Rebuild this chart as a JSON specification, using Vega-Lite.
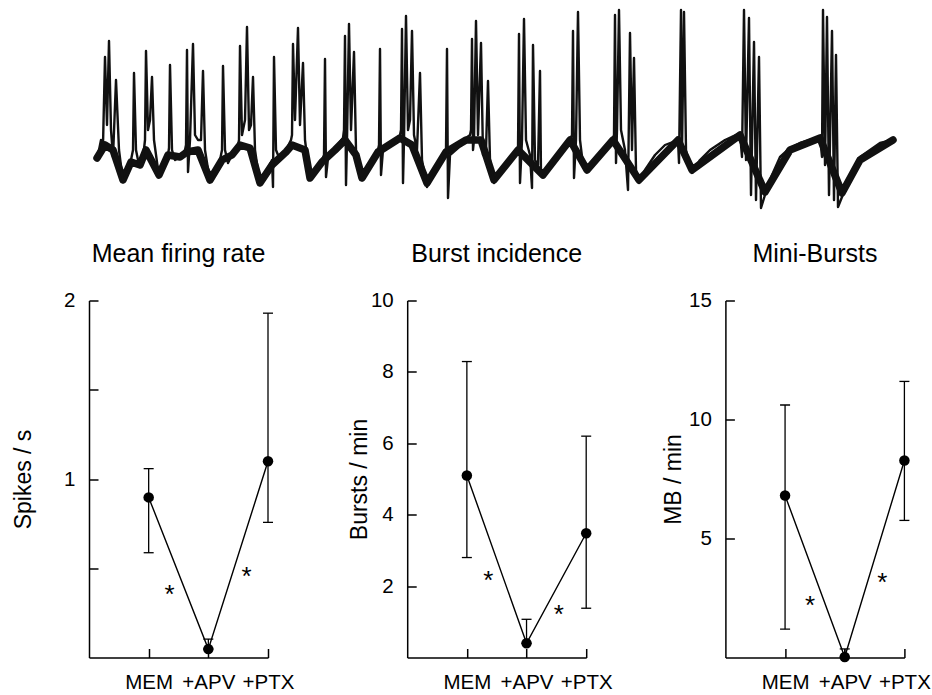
{
  "$schema": "https://vega.github.io/schema/vega-lite/v6.json",
  "autosize": "none",
  "padding": {"left": 89, "top": 10, "right": 843, "bottom": 685},
  "background": "white",
  "bounds": "flush",
  "spacing": 90.5,
  "config": {
    "view": {"stroke": null},
    "font": "Liberation Sans",
    "axis": {
      "grid": false,
      "domainColor": "#000",
      "domainWidth": 1.5,
      "tickColor": "#000",
      "tickWidth": 1.5,
      "tickSize": -9,
      "labelFont": "Liberation Sans",
      "labelFontSize": 20.5,
      "labelColor": "#000",
      "titleFont": "Liberation Sans",
      "titleFontSize": 23,
      "titleFontWeight": "normal",
      "titleColor": "#000"
    },
    "axisX": {"labelPadding": 24, "labelFlush": false, "labelOverlap": false, "labelBound": false},
    "axisY": {"labelPadding": 23, "labelOverlap": false, "titleBaseline": "alphabetic", "titleAngle": -90, "titleY": 178.5, "titleAlign": "center"},
    "title": {"font": "Liberation Sans", "fontSize": 25, "fontWeight": "normal", "color": "#000", "anchor": "middle", "frame": "group", "baseline": "alphabetic", "offset": 24}
  },
  "datasets": {
    "trace": [
      {"t":0,"v":50},{"t":2,"v":60},{"t":4,"v":70},{"t":6,"v":65},{"t":8,"v":153},{"t":10,"v":85},{"t":12,"v":169},{"t":14,"v":80},{"t":16,"v":53},{"t":19,"v":130},{"t":22,"v":60},{"t":26,"v":28},{"t":30,"v":35},{"t":34,"v":50},
      {"t":36,"v":60},{"t":37,"v":137},{"t":39,"v":60},{"t":41,"v":50},{"t":43,"v":43},{"t":46,"v":52},
      {"t":48,"v":70},{"t":49,"v":159},{"t":51,"v":80},{"t":53,"v":90},{"t":55,"v":133},{"t":57,"v":70},{"t":62,"v":33},{"t":66,"v":45},{"t":71,"v":55},
      {"t":72,"v":62},{"t":73,"v":145},{"t":75,"v":60},{"t":78,"v":50},{"t":83,"v":53},{"t":88,"v":60},
      {"t":89,"v":65},{"t":90,"v":160},{"t":91,"v":38},{"t":93,"v":70},{"t":96,"v":166},{"t":98,"v":75},{"t":101,"v":70},{"t":104,"v":70},{"t":106,"v":139},{"t":108,"v":60},{"t":113,"v":28},{"t":118,"v":40},{"t":123,"v":50},
      {"t":125,"v":60},{"t":126,"v":144},{"t":128,"v":60},{"t":131,"v":47},{"t":135,"v":55},{"t":141,"v":65},
      {"t":142,"v":70},{"t":143,"v":164},{"t":145,"v":75},{"t":148,"v":90},{"t":150,"v":183},{"t":152,"v":80},{"t":154,"v":85},{"t":156,"v":133},{"t":158,"v":60},{"t":163,"v":25},{"t":169,"v":38},{"t":175,"v":50},
      {"t":176,"v":23},{"t":177,"v":153},{"t":179,"v":60},{"t":183,"v":50},{"t":189,"v":60},{"t":194,"v":70},
      {"t":195,"v":75},{"t":196,"v":166},{"t":198,"v":90},{"t":201,"v":182},{"t":203,"v":85},{"t":206,"v":147},{"t":208,"v":70},{"t":213,"v":30},{"t":219,"v":38},{"t":225,"v":50},
      {"t":227,"v":55},{"t":228,"v":151},{"t":229,"v":33},{"t":231,"v":52},{"t":238,"v":62},{"t":246,"v":72},
      {"t":247,"v":80},{"t":248,"v":174},{"t":249,"v":25},{"t":250,"v":70},{"t":252,"v":186},{"t":254,"v":80},{"t":257,"v":158},{"t":259,"v":60},{"t":265,"v":30},{"t":273,"v":45},{"t":281,"v":60},
      {"t":282,"v":65},{"t":283,"v":161},{"t":284,"v":35},{"t":286,"v":60},{"t":293,"v":65},{"t":303,"v":75},
      {"t":304,"v":80},{"t":305,"v":181},{"t":306,"v":27},{"t":307,"v":70},{"t":309,"v":194},{"t":311,"v":80},{"t":313,"v":90},{"t":315,"v":179},{"t":317,"v":75},{"t":320,"v":60},{"t":323,"v":137},{"t":325,"v":50},{"t":330,"v":23},{"t":336,"v":35},{"t":343,"v":50},{"t":349,"v":60},
      {"t":350,"v":161},{"t":351,"v":12},{"t":353,"v":55},{"t":361,"v":62},{"t":369,"v":72},{"t":373,"v":75},
      {"t":374,"v":80},{"t":375,"v":171},{"t":376,"v":60},{"t":377,"v":70},{"t":379,"v":189},{"t":381,"v":75},{"t":384,"v":167},{"t":386,"v":55},{"t":389,"v":60},{"t":391,"v":129},{"t":393,"v":50},{"t":397,"v":27},{"t":403,"v":40},{"t":413,"v":50},
      {"t":421,"v":60},{"t":422,"v":176},{"t":423,"v":27},{"t":425,"v":70},{"t":427,"v":191},{"t":429,"v":70},{"t":433,"v":55},{"t":435,"v":22},{"t":436,"v":165},{"t":438,"v":50},{"t":441,"v":45},{"t":443,"v":139},{"t":444,"v":35},{"t":446,"v":33},{"t":453,"v":45},{"t":463,"v":60},{"t":473,"v":70},
      {"t":475,"v":75},{"t":476,"v":179},{"t":477,"v":32},{"t":479,"v":70},{"t":481,"v":198},{"t":483,"v":70},{"t":486,"v":45},{"t":490,"v":38},{"t":498,"v":50},{"t":508,"v":62},{"t":516,"v":72},
      {"t":517,"v":75},{"t":518,"v":195},{"t":519,"v":47},{"t":520,"v":80},{"t":522,"v":200},{"t":524,"v":80},{"t":528,"v":60},{"t":531,"v":20},{"t":533,"v":177},{"t":535,"v":60},{"t":537,"v":152},{"t":539,"v":40},{"t":542,"v":27},{"t":548,"v":40},{"t":558,"v":55},{"t":568,"v":65},{"t":581,"v":70},
      {"t":582,"v":47},{"t":584,"v":200},{"t":585,"v":60},{"t":587,"v":198},{"t":589,"v":60},{"t":592,"v":45},{"t":595,"v":37},{"t":603,"v":50},{"t":613,"v":60},{"t":628,"v":70},{"t":643,"v":77},
      {"t":645,"v":53},{"t":647,"v":200},{"t":649,"v":50},{"t":652,"v":192},{"t":654,"v":15},{"t":657,"v":168},{"t":659,"v":10},{"t":662,"v":153},{"t":664,"v":2},{"t":668,"v":15},{"t":675,"v":35},{"t":683,"v":53},{"t":693,"v":62},{"t":703,"v":67},{"t":713,"v":70},{"t":723,"v":73},
      {"t":725,"v":53},{"t":726,"v":200},{"t":728,"v":45},{"t":730,"v":193},{"t":732,"v":15},{"t":735,"v":179},{"t":737,"v":10},{"t":739,"v":155},{"t":741,"v":3},{"t":745,"v":13},{"t":753,"v":35},{"t":763,"v":53},{"t":773,"v":60},{"t":783,"v":67},{"t":796,"v":70}
    ],
    "band": [
      {"t":0,"v":52},{"t":8,"v":65},{"t":16,"v":60},{"t":26,"v":30},{"t":34,"v":48},{"t":43,"v":45},{"t":49,"v":60},{"t":62,"v":35},{"t":71,"v":55},{"t":83,"v":53},{"t":90,"v":58},{"t":101,"v":60},{"t":113,"v":30},{"t":125,"v":50},{"t":135,"v":55},{"t":143,"v":65},{"t":153,"v":62},{"t":163,"v":27},{"t":175,"v":45},{"t":189,"v":58},{"t":195,"v":65},{"t":208,"v":60},{"t":213,"v":32},{"t":225,"v":48},{"t":238,"v":60},{"t":248,"v":70},{"t":259,"v":55},{"t":265,"v":32},{"t":281,"v":58},{"t":303,"v":72},{"t":315,"v":65},{"t":330,"v":27},{"t":349,"v":58},{"t":369,"v":70},{"t":384,"v":70},{"t":397,"v":30},{"t":421,"v":60},{"t":446,"v":35},{"t":473,"v":70},{"t":490,"v":40},{"t":516,"v":70},{"t":542,"v":30},{"t":581,"v":70},{"t":595,"v":40},{"t":643,"v":75},{"t":668,"v":18},{"t":693,"v":60},{"t":723,"v":72},{"t":745,"v":17},{"t":763,"v":50},{"t":796,"v":70}
    ],
    "p1": [
      {"pos":1,"cond":"MEM","mean":0.897,"lo":0.587,"hi":1.058},
      {"pos":2,"cond":"+APV","mean":0.047,"lo":0.047,"hi":0.103},
      {"pos":3,"cond":"+PTX","mean":1.099,"lo":0.757,"hi":1.929}
    ],
    "p2": [
      {"pos":1,"cond":"MEM","mean":5.1,"lo":2.8,"hi":8.29},
      {"pos":2,"cond":"+APV","mean":0.4,"lo":0.4,"hi":1.07},
      {"pos":3,"cond":"+PTX","mean":3.48,"lo":1.38,"hi":6.2}
    ],
    "p3": [
      {"pos":1,"cond":"MEM","mean":6.81,"lo":1.19,"hi":10.61},
      {"pos":2,"cond":"+APV","mean":0.02,"lo":0.02,"hi":0.36},
      {"pos":3,"cond":"+PTX","mean":8.28,"lo":5.76,"hi":11.6}
    ],
    "s1": [{"pos":1.35,"val":0.389},{"pos":2.64,"val":0.492}],
    "s2": [{"pos":1.36,"val":2.33},{"pos":2.54,"val":1.4}],
    "s3": [{"pos":1.42,"val":2.45},{"pos":2.63,"val":3.44}]
  },
  "vconcat": [
    {
      "width": 804,
      "height": 200,
      "encoding": {
        "x": {"field": "t", "type": "quantitative", "scale": {"domain": [-8, 796], "nice": false, "zero": false}, "axis": null},
        "y": {"field": "v", "type": "quantitative", "scale": {"domain": [0, 200], "nice": false}, "axis": null}
      },
      "layer": [
        {"data": {"name": "band"}, "mark": {"type": "line", "color": "#111", "strokeWidth": 7.5, "strokeJoin": "round", "strokeCap": "round"}},
        {"data": {"name": "trace"}, "mark": {"type": "line", "color": "#111", "strokeWidth": 2.4, "strokeJoin": "round"}}
      ]
    },
    {
      "bounds": "flush",
      "spacing": 139.2,
      "hconcat": [
        {
          "width": 179,
          "height": 357,
          "title": {"text": "Mean firing rate"},
          "data": {"name": "p1"},
          "encoding": {
            "x": {"field": "pos", "type": "quantitative", "scale": {"domain": [0, 3], "nice": false}, "axis": {"title": null, "values": [1, 2, 3], "labelExpr": "datum.value == 1 ? 'MEM' : datum.value == 2 ? '+APV' : '+PTX'"}}
          },
          "layer": [
            {"mark": {"type": "rule", "color": "#000", "strokeWidth": 1.3}, "encoding": {"y": {"field": "lo", "type": "quantitative", "scale": {"domain": [0, 2], "nice": false}, "axis": {"title": "Spikes / s", "values": [0.5, 1, 1.5, 2], "labelExpr": "datum.value % 1 == 0 ? format(datum.value, 'd') : ''", "titleX": -59}}, "y2": {"field": "hi"}}},
            {"mark": {"type": "tick", "orient": "horizontal", "size": 10, "thickness": 1.3, "color": "#000", "opacity": 1}, "encoding": {"y": {"field": "hi", "type": "quantitative", "axis": {"title": "Spikes / s", "values": [0.5, 1, 1.5, 2], "labelExpr": "datum.value % 1 == 0 ? format(datum.value, 'd') : ''", "titleX": -59}}}},
            {"mark": {"type": "tick", "orient": "horizontal", "size": 10, "thickness": 1.3, "color": "#000", "opacity": 1}, "encoding": {"y": {"field": "lo", "type": "quantitative", "axis": {"title": "Spikes / s", "values": [0.5, 1, 1.5, 2], "labelExpr": "datum.value % 1 == 0 ? format(datum.value, 'd') : ''", "titleX": -59}}}},
            {"mark": {"type": "line", "color": "#000", "strokeWidth": 1.4}, "encoding": {"y": {"field": "mean", "type": "quantitative", "axis": {"title": "Spikes / s", "values": [0.5, 1, 1.5, 2], "labelExpr": "datum.value % 1 == 0 ? format(datum.value, 'd') : ''", "titleX": -59}}}},
            {"mark": {"type": "point", "filled": true, "size": 110, "color": "#000", "opacity": 1}, "encoding": {"y": {"field": "mean", "type": "quantitative", "axis": {"title": "Spikes / s", "values": [0.5, 1, 1.5, 2], "labelExpr": "datum.value % 1 == 0 ? format(datum.value, 'd') : ''", "titleX": -59}}}},
            {"data": {"name": "s1"}, "mark": {"type": "text", "text": "*", "fontSize": 26, "baseline": "alphabetic", "dy": 15, "color": "#000"}, "encoding": {"y": {"field": "val", "type": "quantitative", "axis": {"title": "Spikes / s", "values": [0.5, 1, 1.5, 2], "labelExpr": "datum.value % 1 == 0 ? format(datum.value, 'd') : ''", "titleX": -59}}}}
          ]
        },
        {
          "width": 179,
          "height": 357,
          "title": {"text": "Burst incidence"},
          "data": {"name": "p2"},
          "encoding": {
            "x": {"field": "pos", "type": "quantitative", "scale": {"domain": [0, 3], "nice": false}, "axis": {"title": null, "values": [1, 2, 3], "labelExpr": "datum.value == 1 ? 'MEM' : datum.value == 2 ? '+APV' : '+PTX'"}}
          },
          "layer": [
            {"mark": {"type": "rule", "color": "#000", "strokeWidth": 1.3}, "encoding": {"y": {"field": "lo", "type": "quantitative", "scale": {"domain": [0, 10], "nice": false}, "axis": {"title": "Bursts / min", "values": [2, 4, 6, 8, 10], "titleX": -41}}, "y2": {"field": "hi"}}},
            {"mark": {"type": "tick", "orient": "horizontal", "size": 10, "thickness": 1.3, "color": "#000", "opacity": 1}, "encoding": {"y": {"field": "hi", "type": "quantitative", "axis": {"title": "Bursts / min", "values": [2, 4, 6, 8, 10], "titleX": -41}}}},
            {"mark": {"type": "tick", "orient": "horizontal", "size": 10, "thickness": 1.3, "color": "#000", "opacity": 1}, "encoding": {"y": {"field": "lo", "type": "quantitative", "axis": {"title": "Bursts / min", "values": [2, 4, 6, 8, 10], "titleX": -41}}}},
            {"mark": {"type": "line", "color": "#000", "strokeWidth": 1.4}, "encoding": {"y": {"field": "mean", "type": "quantitative", "axis": {"title": "Bursts / min", "values": [2, 4, 6, 8, 10], "titleX": -41}}}},
            {"mark": {"type": "point", "filled": true, "size": 110, "color": "#000", "opacity": 1}, "encoding": {"y": {"field": "mean", "type": "quantitative", "axis": {"title": "Bursts / min", "values": [2, 4, 6, 8, 10], "titleX": -41}}}},
            {"data": {"name": "s2"}, "mark": {"type": "text", "text": "*", "fontSize": 26, "baseline": "alphabetic", "dy": 15, "color": "#000"}, "encoding": {"y": {"field": "val", "type": "quantitative", "axis": {"title": "Bursts / min", "values": [2, 4, 6, 8, 10], "titleX": -41}}}}
          ]
        },
        {
          "width": 179,
          "height": 357,
          "title": {"text": "Mini-Bursts"},
          "data": {"name": "p3"},
          "encoding": {
            "x": {"field": "pos", "type": "quantitative", "scale": {"domain": [0, 3], "nice": false}, "axis": {"title": null, "values": [1, 2, 3], "labelExpr": "datum.value == 1 ? 'MEM' : datum.value == 2 ? '+APV' : '+PTX'"}}
          },
          "layer": [
            {"mark": {"type": "rule", "color": "#000", "strokeWidth": 1.3}, "encoding": {"y": {"field": "lo", "type": "quantitative", "scale": {"domain": [0, 15], "nice": false}, "axis": {"title": "MB / min", "values": [5, 10, 15], "titleX": -45}}, "y2": {"field": "hi"}}},
            {"mark": {"type": "tick", "orient": "horizontal", "size": 10, "thickness": 1.3, "color": "#000", "opacity": 1}, "encoding": {"y": {"field": "hi", "type": "quantitative", "axis": {"title": "MB / min", "values": [5, 10, 15], "titleX": -45}}}},
            {"mark": {"type": "tick", "orient": "horizontal", "size": 10, "thickness": 1.3, "color": "#000", "opacity": 1}, "encoding": {"y": {"field": "lo", "type": "quantitative", "axis": {"title": "MB / min", "values": [5, 10, 15], "titleX": -45}}}},
            {"mark": {"type": "line", "color": "#000", "strokeWidth": 1.4}, "encoding": {"y": {"field": "mean", "type": "quantitative", "axis": {"title": "MB / min", "values": [5, 10, 15], "titleX": -45}}}},
            {"mark": {"type": "point", "filled": true, "size": 110, "color": "#000", "opacity": 1}, "encoding": {"y": {"field": "mean", "type": "quantitative", "axis": {"title": "MB / min", "values": [5, 10, 15], "titleX": -45}}}},
            {"data": {"name": "s3"}, "mark": {"type": "text", "text": "*", "fontSize": 26, "baseline": "alphabetic", "dy": 15, "color": "#000"}, "encoding": {"y": {"field": "val", "type": "quantitative", "axis": {"title": "MB / min", "values": [5, 10, 15], "titleX": -45}}}}
          ]
        }
      ]
    }
  ]
}
